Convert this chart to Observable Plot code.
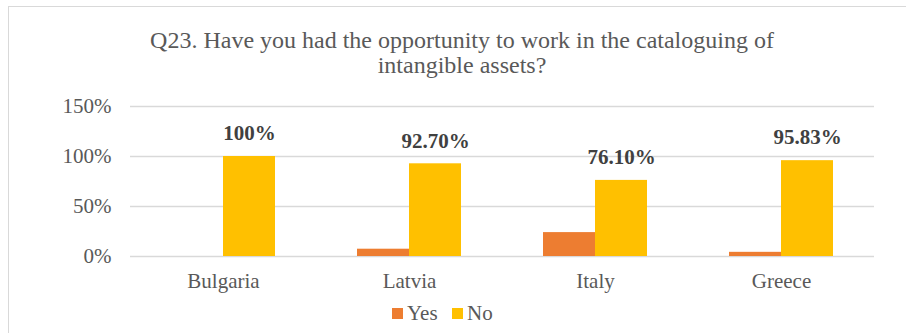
<!DOCTYPE html>
<html>
<head>
<meta charset="utf-8">
<script src="https://cdn.jsdelivr.net/npm/d3@7"></script>
<script src="https://cdn.jsdelivr.net/npm/@observablehq/plot@0.6"></script>
<style>
  html, body { margin: 0; padding: 0; background: #fff; }
  body { width: 906px; height: 333px; overflow: hidden; position: relative; font-family: "Liberation Serif", "Times New Roman", serif; }
  #frame { position: absolute; left: 8px; top: 6px; width: 1000px; height: 400px; border-left: 1.5px solid #d9d9d9; border-top: 1.5px solid #d9d9d9; }
  #title { position: absolute; left: 112px; width: 700px; top: 28px; text-align: center; font-size: 24px; line-height: 25px; color: #595959; }
  #chart { position: absolute; left: 0; top: 90px; }
  #legend { position: absolute; left: 0; width: 906px; top: 301px; height: 24px; color: #595959; font-size: 21px; }
  .item { position: absolute; top: 0; line-height: 24px; }
  .sw { position: absolute; width: 11px; height: 11px; top: 7px; }
</style>
</head>
<body>
<div id="frame"></div>
<div id="title">Q23. Have you had the opportunity to work in the cataloguing of<br>intangible assets?</div>
<div id="chart"></div>
<div id="legend"></div>
<script>
const categories = ["Bulgaria", "Latvia", "Italy", "Greece"];
const series = ["Yes", "No"];
const yesValues = [0, 7.3, 23.9, 4.17];
const noValues = [100, 92.7, 76.1, 95.83];
const noLabels = ["100%", "92.70%", "76.10%", "95.83%"];
const yTicks = [0, 50, 100, 150];
const colors = ["#ED7D31", "#FFC000"];

const rows = [];
categories.forEach((c, i) => {
  rows.push({country: c, series: "Yes", value: yesValues[i], label: ""});
  rows.push({country: c, series: "No", value: noValues[i], label: noLabels[i]});
});

const font = "Liberation Serif, Times New Roman, serif";

const chart = Plot.plot({
  width: 906,
  height: 215,
  marginTop: 16,
  marginLeft: 128,
  marginRight: 31,
  marginBottom: 49,
  style: {fontFamily: font, fontSize: "21px", color: "#595959", background: "transparent", overflow: "visible"},
  facet: {data: rows, x: "country"},
  fx: {domain: categories, padding: 0, label: null, axis: "bottom", tickSize: 0, tickPadding: 17},
  x: {domain: series, paddingInner: 0, paddingOuter: 0.762, axis: null},
  y: {domain: [0, 150], ticks: yTicks, tickFormat: d => d + "%", tickSize: 0, tickPadding: 19, label: null},
  color: {domain: series, range: colors},
  marks: [
    Plot.ruleY(yTicks, {stroke: "#d9d9d9", strokeWidth: 1.5}),
    Plot.barY(rows, {x: "series", y: "value", fill: "series"}),
    Plot.text(rows, {filter: d => d.series === "No", x: "series", y: "value", text: "label",
      dy: -23, fontSize: 21, fontWeight: "bold", fill: "#404040", fontFamily: font})
  ]
});
document.getElementById("chart").appendChild(chart);

// legend
const legend = document.getElementById("legend");
const legendPos = [{sw: 392, tx: 407}, {sw: 452, tx: 467}];
series.forEach((s, i) => {
  const sw = document.createElement("div");
  sw.className = "sw";
  sw.style.left = legendPos[i].sw + "px";
  sw.style.background = colors[i];
  legend.appendChild(sw);
  const t = document.createElement("div");
  t.className = "item";
  t.style.left = legendPos[i].tx + "px";
  t.textContent = s;
  legend.appendChild(t);
});
</script>
</body>
</html>
